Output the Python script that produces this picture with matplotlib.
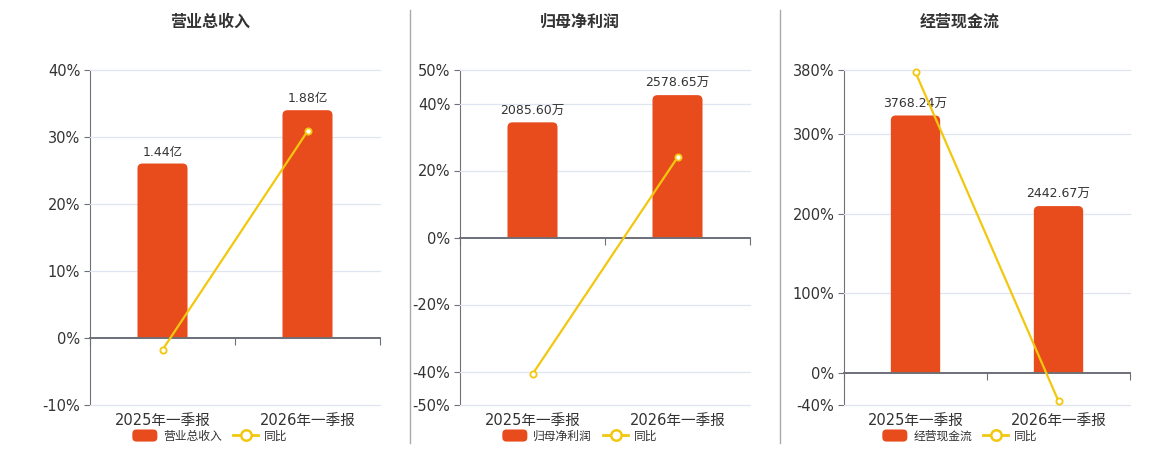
import matplotlib
matplotlib.use("Agg")
import matplotlib.pyplot as plt
from matplotlib.patches import FancyBboxPatch, Rectangle, Patch
from matplotlib.lines import Line2D
from matplotlib.legend_handler import HandlerPatch
import matplotlib.transforms as mtransforms

plt.rcParams["font.family"] = ["DejaVu Sans", "Noto Sans CJK SC"]

# ── Data ──────────────────────────────────────────────────────
categories = ["2025年一季报", "2026年一季报"]

titles = ["营业总收入", "归母净利润", "经营现金流"]

revenue        = [1.44, 1.88]            # 亿
revenue_labels = ["1.44亿", "1.88亿"]
revenue_yoy    = [-1.76, 30.85]          # %

profit         = [2085.60, 2578.65]      # 万
profit_labels  = ["2085.60万", "2578.65万"]
profit_yoy     = [-40.8, 23.9]

cash           = [3768.24, 2442.67]      # 万
cash_labels    = ["3768.24万", "2442.67万"]
cash_yoy       = [377.0, -35.2]

yticks_list = [
    [-10, 0, 10, 20, 30, 40],
    [-50, -40, -20, 0, 20, 40, 50],
    [-40, 0, 100, 200, 300, 380],
]

# ── Style ─────────────────────────────────────────────────────
BAR   = "#e84c1c"
LINE  = "#f2c80f"
AXIS  = "#6e7079"
GRID  = "#e0e6f1"
TEXT  = "#333333"
W, H = 1160, 450

fig = plt.figure(figsize=(W / 100, H / 100), dpi=100)

panels = [(90, 380), (460, 750), (844, 1130)]
centers = [210, 580, 960]          # title / legend centres
top_px, bot_px = 70, 405
series = [
    (revenue, revenue_labels, revenue_yoy),
    (profit, profit_labels, profit_yoy),
    (cash, cash_labels, cash_yoy),
]


def round_box(legend, orig_handle, xdescent, ydescent, width, height, fontsize):
    return FancyBboxPatch((-xdescent, -ydescent), width, height,
                          boxstyle="round,pad=0,rounding_size=3")


for (l, r), cx, (vals, labels, yoy), ticks, title in zip(
        panels, centers, series, yticks_list, titles):
    ax = fig.add_axes([l / W, (H - bot_px) / H, (r - l) / W, (bot_px - top_px) / H])
    lo, hi = ticks[0], ticks[-1]
    ax.set_ylim(lo, hi)
    ax.set_xlim(-0.5, 1.5)
    ax.set_yticks(ticks)
    ax.set_yticklabels([f"{t}%" for t in ticks], fontsize=10.5, color=TEXT)
    ax.tick_params(axis="y", length=4, color=AXIS, pad=3)

    # bar axis, zero aligned with the percent axis (drawn above ax)
    bx = ax.twinx()
    btop = max(vals) / 0.85
    bx.set_ylim(btop * lo / hi, btop)
    bx.set_xlim(-0.5, 1.5)
    bx.axis("off")

    # grid in percent units, behind the bars
    for t in ticks:
        if t != 0:
            bx.plot([-0.5, 1.5], [t, t], color=GRID, lw=0.9, zorder=0,
                    transform=ax.transData, clip_on=False)

    # rounded-top bars
    bw = 0.345
    px_x = 2.0 / (r - l)
    px_y = (btop - btop * lo / hi) / (bot_px - top_px)
    rad = 5
    clip = Rectangle((-0.5, 0), 2, btop * 2, transform=bx.transData)
    for x, v, lab in zip(range(len(vals)), vals, labels):
        p = FancyBboxPatch((x - bw / 2, -rad * px_y), bw, v + rad * px_y,
                           boxstyle=f"round,pad=0,rounding_size={rad * px_x}",
                           mutation_aspect=px_y / px_x, zorder=2,
                           fc=BAR, ec="none", transform=bx.transData)
        bx.add_patch(p)
        p.set_clip_path(clip)
        bx.annotate(lab, (x, v), xytext=(0, 3.5), textcoords="offset points",
                    ha="center", va="bottom", fontsize=9, color=TEXT)

    # zero line over the bars, then the yoy line on top
    bx.plot([-0.5, 1.5], [0, 0], color=AXIS, lw=1.3, zorder=3,
            transform=ax.transData, clip_on=False)
    bx.plot(range(len(yoy)), yoy, color=LINE, lw=1.6, marker="o", ms=4.5,
            mfc="white", mec=LINE, mew=1.3, zorder=5, clip_on=False,
            transform=ax.transData)

    # axes lines
    for s in ["top", "right"]:
        ax.spines[s].set_visible(False)
    ax.spines["left"].set_color(AXIS)
    ax.spines["bottom"].set_position(("data", 0))
    ax.spines["bottom"].set_color(AXIS)
    ax.spines["bottom"].set_linewidth(1.2)
    ax.set_xticks([-0.5, 0.5, 1.5])
    ax.set_xticklabels([])
    ax.tick_params(axis="x", length=5, color=AXIS)

    trans = mtransforms.blended_transform_factory(ax.transData, ax.transAxes)
    for x, c in enumerate(categories):
        ax.text(x, -0.025, c, transform=trans, ha="center", va="top",
                fontsize=10.5, color=TEXT)

    handles = [Patch(fc=BAR, ec="none"),
               Line2D([], [], color=LINE, lw=2, marker="o", ms=7.5,
                      mfc="white", mec=LINE, mew=1.8)]
    ax.legend(handles, [title, "同比"], loc="center", ncol=2,
              bbox_to_anchor=(cx / W, 1 - 436 / H), bbox_transform=fig.transFigure,
              frameon=False, fontsize=8.5, borderpad=0,
              handlelength=2.12, handleheight=1.2, columnspacing=0.95,
              handletextpad=0.5, labelcolor=TEXT,
              handler_map={Patch: HandlerPatch(patch_func=round_box)})

    fig.text(cx / W, 1 - 22 / H, title, ha="center", va="center",
             fontsize=11.5, fontweight="bold", color=TEXT)

# separators
for xs in [410, 780]:
    fig.add_artist(Line2D([xs / W, xs / W], [1 - 10 / H, 1 - 443 / H],
                          color="#aaaaaa", lw=1))

fig.savefig("out.png", dpi=100)
